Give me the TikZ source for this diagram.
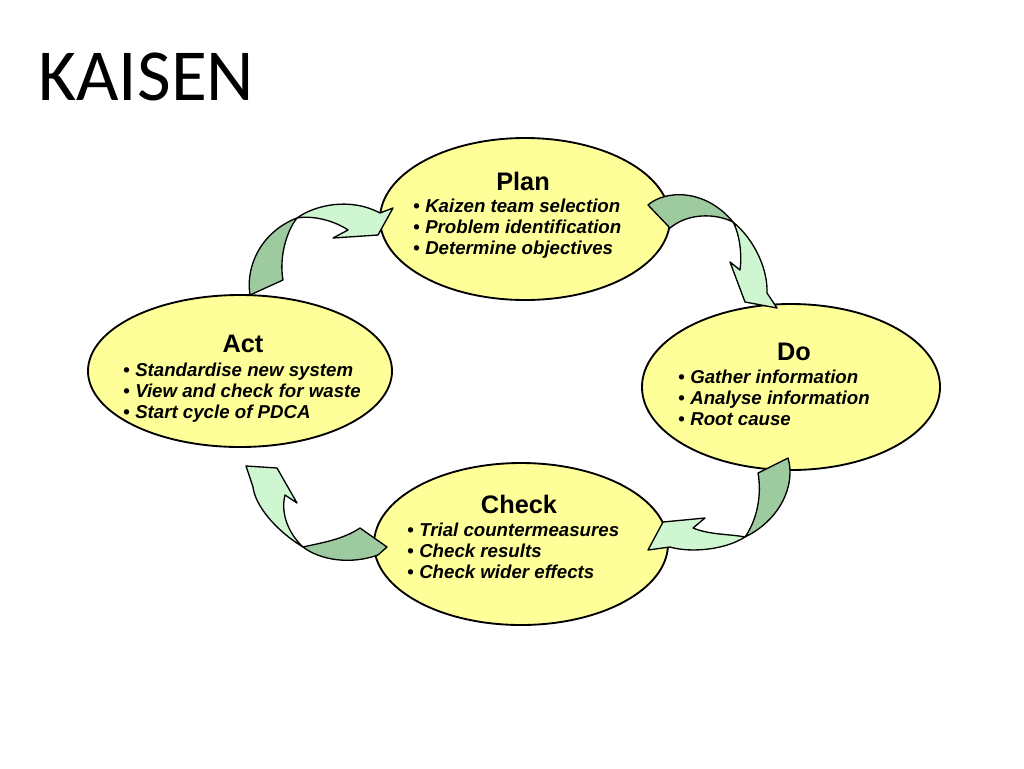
\documentclass[tikz,border=0pt]{standalone}
\usepackage{xcolor}
\usepackage{fontspec}
\usepackage{tikz}
\usetikzlibrary{shapes.geometric}
\newfontfamily\arialfont{Liberation Sans}
\newfontfamily\titlefont{Carlito}
\definecolor{phaseyellow}{RGB}{255,255,153}
\definecolor{tailgreen}{RGB}{158,202,160}
\definecolor{headgreen}{RGB}{206,246,208}
\newcommand{\itm}[1]{\makebox[9pt][l]{\upshape\textbullet}#1}

\begin{document}
\begin{tikzpicture}[x=0.75pt,y=-0.75pt,
    phase/.style={ellipse, draw, fill=phaseyellow, line width=1.4pt, inner sep=0pt},
    head/.style={anchor=base, font=\arialfont\bfseries\fontsize{19}{21}\selectfont},
    items/.style={anchor=base west, align=left, inner sep=0pt,
        font=\arialfont\bfseries\itshape\fontsize{14}{15.6}\selectfont},
    tail/.style={fill=tailgreen, draw, line width=1pt, line join=round},
    tip/.style={fill=headgreen, draw, line width=1pt, line join=round}]
    \useasboundingbox (0,0) rectangle (1024,768);
    \node[anchor=base west, inner sep=0pt, font=\titlefont\fontsize{55}{60}\selectfont] (title) at (38,100) {KAISEN};

    \node[phase, minimum width=217.5pt, minimum height=121.5pt] (plan) at (525,219) {};
    \node[phase, minimum width=228pt, minimum height=114pt] (act) at (240,371) {};
    \node[phase, minimum width=223.5pt, minimum height=124.5pt] (do) at (791,387) {};
    \node[phase, minimum width=220.5pt, minimum height=121.5pt] (check) at (521,544) {};

    % list nodes sit on the baseline of their last line
    \node[head] (planhead) at (523,190) {Plan};
    \node[items] (planlist) at (413,254) {\itm{Kaizen team selection}\\ \itm{Problem identification}\\ \itm{Determine objectives}};
    \node[head] (acthead) at (243,352) {Act};
    \node[items] (actlist) at (123,418) {\itm{Standardise new system}\\ \itm{View and check for waste}\\ \itm{Start cycle of PDCA}};
    \node[head] (dohead) at (794,360) {Do};
    \node[items] (dolist) at (678,425) {\itm{Gather information}\\ \itm{Analyse information}\\ \itm{Root cause}};
    \node[head] (checkhead) at (519,513) {Check};
    \node[items] (checklist) at (407,578) {\itm{Trial countermeasures}\\ \itm{Check results}\\ \itm{Check wider effects}};

    % act to plan
    \draw[tail] (250,295) .. controls (245,262) and (265,230) .. (297,218)
        .. controls (286,232) and (279,258) .. (283,280) -- cycle;
    \draw[tip] (297,218) .. controls (315,205) and (350,197) .. (380,213) -- (393,208) -- (378,235)
        -- (333,238) -- (348,230) .. controls (335,221) and (313,215) .. (297,218) -- cycle;
    % plan to do
    \draw[tail] (648,205) .. controls (665,190) and (705,188) .. (733,222)
        .. controls (715,213) and (688,213) .. (670,228) -- cycle;
    \draw[tip] (733,222) .. controls (755,240) and (768,270) .. (767,293) -- (777,308) -- (745,302)
        -- (730,262) -- (740,270) .. controls (742,255) and (740,235) .. (733,222) -- cycle;
    % do to check
    \draw[tail] (758,473) -- (788,458) .. controls (796,485) and (780,520) .. (745,537)
        .. controls (757,520) and (762,495) .. cycle;
    \draw[tip] (745,537) .. controls (725,550) and (690,553) .. (670,547) -- (648,550) -- (663,522)
        -- (705,518) -- (693,528) .. controls (710,535) and (730,534) .. (745,537) -- cycle;
    % check to act
    \draw[tail] (360,528) -- (387,547) -- (378,555) .. controls (350,565) and (320,560) .. (303,547)
        .. controls (320,543) and (342,540) .. cycle;
    \draw[tip] (303,547) .. controls (275,530) and (255,505) .. (253,487) -- (246,466) -- (277,468)
        -- (297,503) -- (285,495) .. controls (280,515) and (290,535) .. (303,547) -- cycle;
\end{tikzpicture}
\end{document}
